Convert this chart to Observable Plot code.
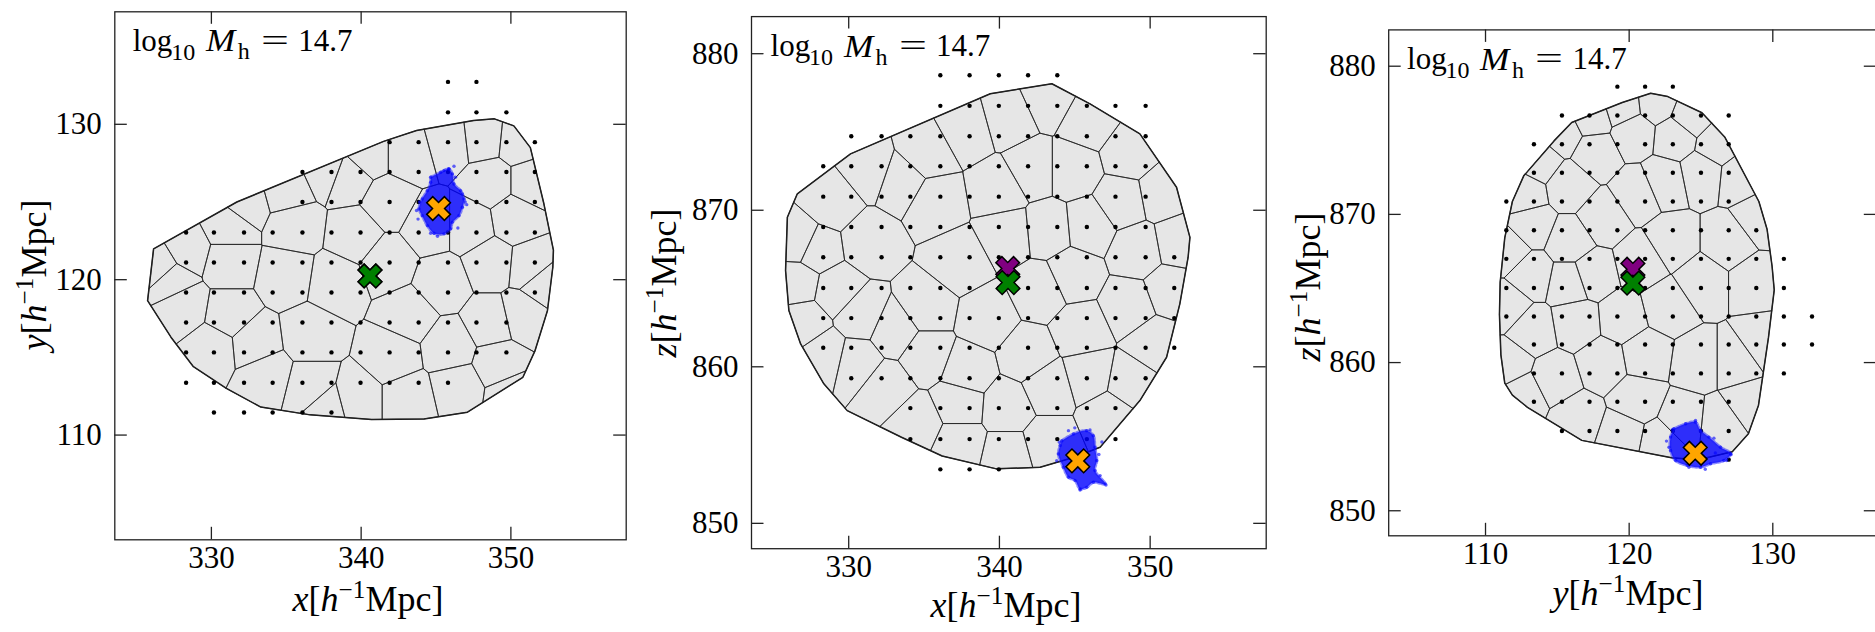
<!DOCTYPE html>
<html><head><meta charset="utf-8">
<script src="https://cdn.jsdelivr.net/npm/d3@7"></script>
<script src="https://cdn.jsdelivr.net/npm/@observablehq/plot@0.6"></script>
<style>
html,body{margin:0;padding:0;background:#fff;overflow:hidden;}
#wrap{position:relative;width:1875px;height:632px;overflow:hidden;font-family:"Liberation Serif","DejaVu Serif","Times New Roman",serif;color:#000;}
.panel{position:absolute;top:0;width:640px;height:632px;}
.panel svg{max-width:none;}
.lab{position:absolute;white-space:nowrap;line-height:1;font-size:36px;}
.tp{position:absolute;white-space:nowrap;line-height:1;}
.sp{font-size:0.7em;position:relative;top:-0.5em;line-height:0;}
</style></head>
<body><div id="wrap"></div>
<script>
// ---------- grid values (h^-1 Mpc) ----------
const xGrid = [328.31, 330.17, 332.18, 334.09, 336.08, 338.02, 339.96, 341.9, 343.84, 345.8, 347.7, 349.7, 351.6];
const yGrid = [111.45, 113.37, 115.32, 117.24, 119.18, 121.11, 123.04, 125.0, 126.93, 128.85, 130.77, 132.73];
const zGrid = [853.45, 855.38, 857.36, 859.27, 861.22, 863.11, 865.03, 867.0, 868.93, 870.87, 872.81, 874.73, 876.67, 878.62];
// rows: [row index, first column index, last column index]
const xyRows = [[0,1,5],[1,0,9],[2,0,11],[3,0,11],[4,0,12],[5,0,12],[6,0,12],[7,4,12],[8,4,12],[9,7,12],[10,9,11],[11,9,10]];
const xzRows = [[0,4,6],[1,3,10],[2,3,10],[3,1,11],[4,0,12],[5,0,12],[6,0,12],[7,0,12],[8,0,11],[9,0,11],[10,0,11],[11,1,11],[12,4,11],[13,4,8]];
const yzRows = [[0,8,8],[1,2,8],[2,1,8],[3,1,10],[4,1,11],[5,0,11],[6,0,10],[7,0,10],[8,0,9],[9,0,8],[10,1,8],[11,1,8],[12,2,8],[13,4,6]];

// ---------- convex hulls (projected) ----------
const hullXY = [[325.74,118.65],[327.3,116.3],[328.8,114.4],[331.0,113.0],[333.3,111.8],[336.6,111.3],[340.7,111.0],[344.2,111.04],[347.1,111.47],[349.3,112.86],[350.8,113.72],[351.6,115.4],[352.44,118.0],[352.8,120.8],[352.84,121.9],[352.2,124.9],[351.3,128.5],[350.2,129.9],[348.9,130.35],[347.5,130.24],[343.7,129.6],[341.5,128.9],[335.8,126.55],[331.7,125.0],[329.0,123.44],[326.14,121.98],[326.0,120.4]];
const hullXZ = [[325.93,869.55],[325.81,866.15],[326.03,863.59],[326.81,861.46],[328.35,858.91],[329.9,857.2],[331.6,856.5],[333.5,855.5],[336.2,854.3],[339.8,853.48],[342.7,853.58],[344.9,854.2],[346.68,854.86],[348.0,856.35],[349.32,857.84],[351.09,860.61],[351.97,864.02],[352.52,867.0],[352.64,868.27],[351.75,871.47],[349.32,874.88],[346.01,876.8],[343.48,878.08],[339.39,877.44],[333.65,874.88],[330.12,873.6],[326.59,871.05]];
const hullYZ = [[111.34,868.42],[111.02,865.42],[110.97,863.24],[111.07,860.52],[111.34,858.61],[111.87,857.8],[112.92,856.98],[116.7,854.75],[122.96,853.57],[124.81,853.44],[127.18,853.98],[128.3,855.2],[129.0,857.1],[129.7,861.7],[130.1,864.9],[129.95,866.5],[129.6,869.0],[129.03,870.87],[127.97,872.78],[126.65,875.23],[125.07,876.86],[122.69,877.95],[121.5,878.17],[119.52,877.55],[116.0,876.2],[114.77,874.96],[112.66,872.6],[111.87,870.87]];

// ---------- cell seeds (approximate projected cell centres) ----------
const seedsXY = [[326.67,120.84],[328.31,121.88],[328.17,118.25],[327.35,120.06],[331.17,123.44],[331.17,121.1],[331.17,117.73],[330.08,115.65],[332.81,115.91],[333.63,113.83],[336.63,113.06],[339.63,112.28],[343.18,112.28],[346.45,113.06],[349.18,114.61],[336.63,116.43],[334.99,120.32],[338.27,119.8],[335.54,123.44],[334.99,125.77],[339.09,126.55],[343.18,128.11],[345.91,128.88],[348.09,129.14],[350.55,128.88],[339.63,122.92],[341.81,121.1],[343.18,117.73],[342.09,115.13],[345.91,115.65],[348.64,117.21],[350.82,117.73],[351.36,120.84],[350.27,123.95],[351.36,126.29],[348.64,126.29],[347.27,123.44],[345.36,119.8],[344.54,123.44],[341.81,124.99],[348.64,121.1],[352.18,119.8],[337.72,111.76],[350.0,112.54],[332.26,124.99],[340.45,128.11],[337.72,127.07]];
const seedsXZ = [[326.76,867.97],[326.62,865.39],[327.03,862.81],[328.38,860.75],[328.92,870.54],[327.84,867.45],[329.19,864.88],[331.35,867.97],[330.81,863.33],[330.54,860.24],[332.43,858.69],[334.59,856.38],[337.3,855.09],[340.54,854.32],[343.24,855.09],[333.51,871.83],[331.35,872.6],[335.14,873.63],[337.84,875.18],[340.54,875.95],[343.24,877.24],[345.95,875.69],[348.65,873.63],[350.81,871.06],[351.89,867.97],[351.35,864.88],[350.27,861.53],[348.65,858.95],[347.3,856.89],[335.68,870.54],[340.0,871.31],[342.16,872.6],[344.86,872.6],[348.11,870.54],[349.19,867.45],[345.95,869.0],[343.24,868.74],[340.54,868.48],[337.3,866.68],[335.14,863.84],[339.19,863.07],[342.7,864.88],[344.86,865.91],[348.65,863.84],[345.41,862.3],[341.89,860.75],[337.84,859.72],[335.14,860.75],[345.95,859.47],[343.24,858.69],[340.54,857.41],[337.3,857.66],[333.03,862.3]];
const seedsYZ = [[111.6,867.6],[111.47,863.79],[111.6,859.98],[112.66,857.8],[112.66,871.42],[113.72,873.6],[115.3,875.5],[117.41,876.59],[119.52,877.27],[121.9,877.55],[124.28,876.59],[126.13,874.69],[127.71,872.51],[129.03,869.78],[113.19,869.24],[113.19,865.97],[113.19,862.15],[114.77,858.89],[116.36,856.16],[119.52,855.07],[122.17,854.53],[115.83,868.15],[115.83,871.96],[117.68,874.14],[120.32,875.5],[123.22,875.23],[125.07,872.78],[118.2,869.78],[120.58,871.42],[122.43,872.23],[117.41,865.97],[120.85,866.79],[119.52,862.97],[116.36,862.7],[115.83,865.42],[118.2,859.98],[121.11,860.52],[122.69,863.79],[125.07,865.42],[126.92,868.15],[128.77,865.42],[129.3,861.34],[127.45,859.98],[124.81,859.98],[126.39,855.89],[128.24,857.25],[123.75,856.16],[120.58,857.52],[122.96,868.15]];

// ---------- blue particle cloud: outline + outlying particles ----------
const cloudXY = [[344.64,126.59],[345.31,126.91],[345.86,127.13],[346.09,126.81],[346.2,126.16],[346.64,125.73],[346.87,125.2],[346.76,124.66],[346.53,124.12],[346.09,123.69],[345.98,123.27],[345.53,122.95],[344.86,122.99],[344.42,123.48],[344.08,124.12],[343.86,124.56],[344.08,125.2],[344.42,125.73],[344.64,126.27]];
const specksXY = [[345.86,127.13],[347.05,124.83],[343.7,124.45],[346.46,123.33],[344.64,122.99],[346.76,125.52],[345.53,127.02],[346.3,126.6],[343.9,125.0],[346.95,125.0],[343.8,123.9],[345.1,122.8],[346.2,127.3]];
const cloudXZ = [[344.14,855.28],[344.91,855.71],[345.79,855.92],[346.23,855.6],[346.34,854.86],[346.46,854.01],[346.34,853.37],[347.01,852.52],[346.23,852.62],[345.79,852.3],[345.35,852.2],[345.02,852.73],[344.58,852.94],[344.24,853.58],[343.91,854.43],[344.03,854.97]];
const specksXZ = [[346.01,855.97],[347.07,852.45],[346.68,853.05],[343.98,855.18],[345.35,852.13],[344.58,855.92],[346.6,854.4],[343.8,854.0],[346.8,855.2],[345.0,856.1]];
const cloudYZ = [[123.11,855.53],[123.93,855.87],[124.62,855.98],[124.97,855.42],[125.55,854.97],[126.36,854.29],[127.06,853.85],[126.59,853.39],[125.66,853.17],[124.97,852.94],[124.04,853.06],[123.23,853.39],[122.88,854.07],[122.88,854.97]];
const specksYZ = [[127.1,853.8],[126.78,853.39],[124.62,856.09],[123.0,855.47],[124.16,852.94],[122.77,854.29],[125.9,854.9],[125.3,852.8],[122.6,854.7],[126.0,853.9]];

// ---------- centre markers ----------
const orangeXY = [345.17,124.58], orangeXZ = [345.2,853.99], orangeYZ = [124.6,853.88];
const greenXY = [340.59,120.24], greenXZ = [340.57,865.38], greenYZ = [120.26,865.36];
const purpleXY = [340.59,120.24], purpleXZ = [340.55,866.28], purpleYZ = [120.26,866.3];

// ---------- axis ticks / domains ----------
const xTicks = [330, 340, 350];
const yTicks = [110, 120, 130];
const zTicks = [850, 860, 870, 880];
const xDomain = [323.55, 357.7], yDomain = [103.26, 137.24], zDomainA = [848.38, 882.37], zDomainB = [848.31, 882.45];

function gridPoints(rows, colVals, rowVals) {
  const out = [];
  for (const [r, c0, c1] of rows) for (let c = c0; c <= c1; c++) out.push({x: colVals[c], y: rowVals[r]});
  return out;
}
function clipConvex(subject, clipPoly) {
  let a = 0;
  for (let i = 0; i < clipPoly.length; i++) { const p = clipPoly[i], q = clipPoly[(i + 1) % clipPoly.length]; a += p[0] * q[1] - q[0] * p[1]; }
  const s = Math.sign(a);
  let out = subject;
  for (let i = 0; i < clipPoly.length && out.length; i++) {
    const A = clipPoly[i], B = clipPoly[(i + 1) % clipPoly.length];
    const ex = B[0] - A[0], ey = B[1] - A[1];
    const inside = p => s * (ex * (p[1] - A[1]) - ey * (p[0] - A[0])) >= 0;
    const inter = (P, Q) => { const dx = Q[0]-P[0], dy = Q[1]-P[1]; const t = (ex*(A[1]-P[1]) - ey*(A[0]-P[0])) / (ex*dy - ey*dx); return [P[0]+t*dx, P[1]+t*dy]; };
    const inp = out; out = [];
    for (let j = 0; j < inp.length; j++) {
      const P = inp[j], Q = inp[(j + 1) % inp.length];
      const pin = inside(P), qin = inside(Q);
      if (pin) { out.push(P); if (!qin) out.push(inter(P, Q)); }
      else if (qin) out.push(inter(P, Q));
    }
  }
  return out;
}
const xFilled = {
  draw(context, size) {
    const R = Math.sqrt(size / Math.PI), w = 0.34, c = Math.SQRT1_2;
    const base = [[w,1],[w,w],[1,w],[1,-w],[w,-w],[w,-1],[-w,-1],[-w,-w],[-1,-w],[-1,w],[-w,w],[-w,1]];
    base.forEach(([x, y], i) => { const X = (x - y) * c * R, Y = (x + y) * c * R; i ? context.lineTo(X, Y) : context.moveTo(X, Y); });
    context.closePath();
  }
};
const P = a => ({x: a[0], y: a[1]});
const FONT = '"Liberation Serif", "DejaVu Serif", "Times New Roman", serif';

function makePanel(cfg) {
  const [mt, mr, mb, ml] = cfg.margin;
  const fw = 640 - ml - mr, fh = 632 - mt - mb;
  const hull = d3.polygonHull(cfg.hull);
  const vor = d3.Delaunay.from(cfg.seeds).voronoi([cfg.xd[0], cfg.yd[0], cfg.xd[1], cfg.yd[1]]);
  const cells = [];
  cfg.seeds.forEach((s, i) => {
    const poly = vor.cellPolygon(i);
    if (!poly) return;
    const cl = clipConvex(poly.slice(0, -1), hull);
    if (cl.length < 3) return;
    cl.push(cl[0]);
    cl.forEach(p => cells.push({x: p[0], y: p[1], c: i}));
  });
  const hullPts = hull.concat([hull[0]]).map(P);
  const cloud = cfg.cloud.concat([cfg.cloud[0]]).map(P);
  const tickStyle = {stroke: "#222", strokeWidth: 1.3};
  const plot = Plot.plot({
    width: 640, height: 632,
    marginTop: mt, marginRight: mr, marginBottom: mb, marginLeft: ml,
    x: {domain: cfg.xd}, y: {domain: cfg.yd},
    style: {fontFamily: FONT, fontSize: "31px", color: "#000", background: "transparent", overflow: "visible", maxWidth: "none"},
    marks: [
      Plot.line(hullPts, {x: "x", y: "y", fill: "#e6e6e6", stroke: "#1a1a1a", strokeWidth: 1.5}),
      Plot.line(cells, {x: "x", y: "y", z: "c", stroke: "#222", strokeWidth: 0.8, strokeLinejoin: "miter"}),
      Plot.dot(cfg.pts, {x: "x", y: "y", r: 2.2, fill: "#000"}),
      Plot.line(cloud, {x: "x", y: "y", fill: "#0000ff", fillOpacity: 0.8, stroke: "#1a1aff", strokeOpacity: 0.5, strokeWidth: 3, strokeDasharray: "2,2", curve: "catmull-rom-closed"}),
      Plot.dot(cfg.specks.concat(cfg.cloud).map(P), {x: "x", y: "y", r: 1.7, fill: "#0000ff", fillOpacity: 0.6}),
      Plot.dot([P(cfg.purple)], {x: "x", y: "y", symbol: xFilled, r: 12.5, fill: "#800080", stroke: "#000", strokeWidth: 1.5}),
      Plot.dot([P(cfg.green)], {x: "x", y: "y", symbol: xFilled, r: 12.5, fill: "#008000", stroke: "#000", strokeWidth: 1.5}),
      Plot.dot([P(cfg.orange)], {x: "x", y: "y", symbol: xFilled, r: 12.5, fill: "#ffa500", stroke: "#000", strokeWidth: 1.5}),
      Plot.frame({stroke: "#222", strokeWidth: 1.3}),
      Plot.tickX(cfg.xt, {x: d => d, insetTop: fh - 12.5, ...tickStyle}),
      Plot.tickX(cfg.xt, {x: d => d, insetBottom: fh - 12.5, ...tickStyle}),
      Plot.tickY(cfg.yt, {y: d => d, insetRight: fw - 12.5, ...tickStyle}),
      Plot.tickY(cfg.yt, {y: d => d, insetLeft: fw - 12.5, ...tickStyle}),
      Plot.axisX(cfg.xt, {anchor: "bottom", tickSize: 0, tickPadding: 6, label: null, fontSize: 31, fontFamily: FONT}),
      Plot.axisY(cfg.yt, {anchor: "left", tickSize: 0, tickPadding: 13, label: null, fontSize: 31, fontFamily: FONT})
    ]
  });
  const holder = document.createElement("div");
  holder.className = "panel";
  holder.style.left = cfg.left + "px";
  holder.appendChild(plot);
  document.getElementById("wrap").appendChild(holder);
}

const panels = [
  {left: 0, margin: [11.3, 14.3, 92.7, 114.3], xd: xDomain, yd: yDomain, xt: xTicks, yt: yTicks,
   pts: gridPoints(xyRows, xGrid, yGrid), hull: hullXY, seeds: seedsXY, cloud: cloudXY, specks: specksXY,
   orange: orangeXY, green: greenXY, purple: purpleXY},
  {left: 640, margin: [16.1, 14.3, 83.8, 111], xd: xDomain, yd: zDomainA, xt: xTicks, yt: zTicks,
   pts: gridPoints(xzRows, xGrid, zGrid), hull: hullXZ, seeds: seedsXZ, cloud: cloudXZ, specks: specksXZ,
   orange: orangeXZ, green: greenXZ, purple: purpleXZ},
  {left: 1280, margin: [29.4, 43.7, 96.7, 108.2], xd: yDomain, yd: zDomainB, xt: yTicks, yt: zTicks,
   pts: gridPoints(yzRows, yGrid, zGrid), hull: hullYZ, seeds: seedsYZ, cloud: cloudYZ, specks: specksYZ,
   orange: orangeYZ, green: greenYZ, purple: purpleYZ}
];
panels.forEach(makePanel);

// ---------- text (titles and axis labels) ----------
const wrap = document.getElementById("wrap");
function addText(cls, html, css) {
  const d = document.createElement("div");
  d.className = cls; d.innerHTML = html; Object.assign(d.style, css);
  wrap.appendChild(d);
  return d;
}
// title pieces: [text, x offset, font size, baseline shift, italic, horizontal stretch]
const titlePieces = [["log", 0, 31, 0, false, 1], ["10", 38.5, 24, 9, false, 1], ["M", 73, 32, 0, true, 1.1],
                     ["h", 105, 24, 8.5, false, 1], ["=", 128, 31, 0, false, 1.6], ["14.7", 165.5, 31, 0, false, 1]];
const titles = [[132.7, 50.9], [770.6, 56.4], [1407.1, 69.3]];
titles.forEach(([x0, base]) => {
  titlePieces.forEach(([t, dx, fs, sh, it, sx]) => {
    addText("tp", it ? `<i>${t}</i>` : t, {left: (x0 + dx) + "px", top: (base + sh - 0.8375 * fs) + "px", fontSize: fs + "px",
      transform: sx !== 1 ? `scaleX(${sx})` : "", transformOrigin: "left center"});
  });
});
const unit = '[<i>h</i><span class="sp">−1</span>Mpc]';
const xLabels = [["x", 368, 599], ["x", 1006, 605], ["y", 1628, 593]];
xLabels.forEach(([v, cx, cy]) => addText("lab", `<i>${v}</i>${unit}`, {left: cx + "px", top: cy + "px", transform: "translate(-50%,-50%)"}));
const yLabels = [["y", 34, 275], ["z", 664, 283], ["z", 1308, 287]];
yLabels.forEach(([v, cx, cy]) => addText("lab", `<i>${v}</i>${unit}`, {left: cx + "px", top: cy + "px", transform: "translate(-50%,-50%) rotate(-90deg)"}));
</script>
</body></html>
